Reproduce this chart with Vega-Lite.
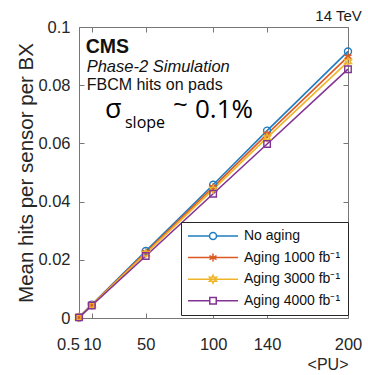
{
  "$schema": "https://vega.github.io/schema/vega-lite/v6.json",
  "width": 269,
  "height": 291,
  "autosize": "none",
  "padding": {"left": 79, "top": 27, "right": 20, "bottom": 57},
  "background": "white",
  "config": {
    "view": {"stroke": "#777777", "strokeWidth": 1},
    "font": "Liberation Sans",
    "legend": {"orient": "none", "legendX": 102, "legendY": 195, "title": null, "padding": 7,
      "strokeColor": "#262626", "fillColor": "white", "labelFont": "Liberation Sans", "labelFontSize": 14, "labelColor": "#111111",
      "symbolSize": 100, "symbolStrokeWidth": 1.5, "symbolOffset": 18, "labelOffset": 24, "rowPadding": 7.6, "symbolOpacity": 1}
  },
  "title": {"text": "14 TeV", "anchor": "end", "fontSize": 15, "fontWeight": "normal", "color": "#1a1a1a", "offset": -5, "font": "Liberation Sans"},
  "datasets": {
    "hits": [
      {"series": "No aging", "pu": 0.5, "hits": 0.0002},
      {"series": "No aging", "pu": 10, "hits": 0.0046},
      {"series": "No aging", "pu": 50, "hits": 0.0230},
      {"series": "No aging", "pu": 100, "hits": 0.0458},
      {"series": "No aging", "pu": 140, "hits": 0.0644},
      {"series": "No aging", "pu": 200, "hits": 0.0916},
      {"series": "Aging 1000 fb⁻¹", "pu": 0.5, "hits": 0.0002},
      {"series": "Aging 1000 fb⁻¹", "pu": 10, "hits": 0.0045},
      {"series": "Aging 1000 fb⁻¹", "pu": 50, "hits": 0.0226},
      {"series": "Aging 1000 fb⁻¹", "pu": 100, "hits": 0.0450},
      {"series": "Aging 1000 fb⁻¹", "pu": 140, "hits": 0.0632},
      {"series": "Aging 1000 fb⁻¹", "pu": 200, "hits": 0.0898},
      {"series": "Aging 3000 fb⁻¹", "pu": 0.5, "hits": 0.0002},
      {"series": "Aging 3000 fb⁻¹", "pu": 10, "hits": 0.0044},
      {"series": "Aging 3000 fb⁻¹", "pu": 50, "hits": 0.0221},
      {"series": "Aging 3000 fb⁻¹", "pu": 100, "hits": 0.0442},
      {"series": "Aging 3000 fb⁻¹", "pu": 140, "hits": 0.0620},
      {"series": "Aging 3000 fb⁻¹", "pu": 200, "hits": 0.0881},
      {"series": "Aging 4000 fb⁻¹", "pu": 0.5, "hits": 0.0002},
      {"series": "Aging 4000 fb⁻¹", "pu": 10, "hits": 0.0043},
      {"series": "Aging 4000 fb⁻¹", "pu": 50, "hits": 0.0213},
      {"series": "Aging 4000 fb⁻¹", "pu": 100, "hits": 0.0427},
      {"series": "Aging 4000 fb⁻¹", "pu": 140, "hits": 0.0598},
      {"series": "Aging 4000 fb⁻¹", "pu": 200, "hits": 0.0855}
    ]
  },
  "resolve": {"axis": {"x": "independent", "y": "independent"}},
  "layer": [
    {
      "data": {"name": "hits"},
      "mark": {"type": "line", "strokeWidth": 1.6},
      "encoding": {
        "x": {"field": "pu", "type": "quantitative",
          "scale": {"domain": [0.5, 200], "nice": false, "zero": false},
          "axis": {"orient": "bottom", "values": [0.5, 10, 50, 100, 140, 200], "labelExpr": "'' + datum.value", "tickSize": -5, "tickColor": "#777777", "domain": false, "grid": false,
            "labelFontSize": 16.5, "labelColor": "#262626", "labelPadding": 23, "labelFlush": false, "labelOverlap": false,
            "labelOffset": {"condition": {"test": "datum.value < 1", "value": -11}, "value": 0},
            "title": "<PU>", "titleAnchor": "end", "titleFontSize": 16, "titleFontWeight": "normal", "titleColor": "#262626", "titlePadding": 4}},
        "y": {"field": "hits", "type": "quantitative",
          "scale": {"domain": [0, 0.1], "nice": false, "zero": true},
          "axis": {"orient": "left", "values": [0, 0.02, 0.04, 0.06, 0.08, 0.1], "labelExpr": "'' + datum.value", "tickSize": -5, "tickColor": "#777777", "domain": false, "grid": false,
            "labelFontSize": 16.5, "labelColor": "#262626", "labelPadding": 14, "labelFlush": false, "labelOverlap": false,
            "title": "Mean hits per sensor per BX", "titleFontSize": 20.5, "titleFontWeight": "normal", "titleColor": "#262626", "titlePadding": 1}},
        "color": {"field": "series", "type": "nominal",
          "scale": {"domain": ["No aging", "Aging 1000 fb⁻¹", "Aging 3000 fb⁻¹", "Aging 4000 fb⁻¹"], "range": ["#1f7cc0", "#dc5a22", "#efb52a", "#833393"]}}
      }
    },
    {
      "data": {"name": "hits"},
      "transform": [{"filter": "datum.series === 'No aging'"}],
      "mark": {"type": "point", "filled": false, "strokeWidth": 1.4, "size": 49, "shape": "circle", "opacity": 1},
      "encoding": {
        "x": {"field": "pu", "type": "quantitative",
          "axis": {"orient": "top", "values": [0.5, 10, 50, 100, 140, 200], "tickSize": -5, "tickColor": "#777777", "domain": false, "grid": false, "labels": false, "title": null}},
        "y": {"field": "hits", "type": "quantitative",
          "axis": {"orient": "right", "values": [0, 0.02, 0.04, 0.06, 0.08, 0.1], "tickSize": -5, "tickColor": "#777777", "domain": false, "grid": false, "labels": false, "title": null}},
        "color": {"field": "series", "type": "nominal"}
      }
    },
    {
      "data": {"name": "hits"},
      "transform": [{"filter": "datum.series === 'Aging 1000 fb⁻¹'"}],
      "mark": {"type": "point", "filled": false, "strokeWidth": 1.6, "size": 49, "shape": "M0,-1.1V1.1M-1,-0.55L1,0.55M-1,0.55L1,-0.55", "opacity": 1},
      "encoding": {
        "x": {"field": "pu", "type": "quantitative", "axis": null},
        "y": {"field": "hits", "type": "quantitative", "axis": null},
        "color": {"field": "series", "type": "nominal"}
      }
    },
    {
      "data": {"name": "hits"},
      "transform": [{"filter": "datum.series === 'Aging 3000 fb⁻¹'"}],
      "mark": {"type": "point", "filled": false, "strokeWidth": 1.4, "size": 49, "shape": "M0,-1.1L0.3,-0.5L1,-0.55L0.55,0L1,0.55L0.3,0.5L0,1.1L-0.3,0.5L-1,0.55L-0.55,0L-1,-0.55L-0.3,-0.5Z", "opacity": 1},
      "encoding": {
        "x": {"field": "pu", "type": "quantitative", "axis": null},
        "y": {"field": "hits", "type": "quantitative", "axis": null},
        "color": {"field": "series", "type": "nominal"}
      }
    },
    {
      "data": {"name": "hits"},
      "transform": [{"filter": "datum.series === 'Aging 4000 fb⁻¹'"}],
      "mark": {"type": "point", "filled": false, "strokeWidth": 1.4, "size": 42, "shape": "square", "opacity": 1},
      "encoding": {
        "x": {"field": "pu", "type": "quantitative", "axis": null},
        "y": {"field": "hits", "type": "quantitative", "axis": null},
        "color": {"field": "series", "type": "nominal"}
      }
    },
    {
      "data": {"name": "hits"},
      "transform": [{"filter": "datum.pu < 0"}],
      "mark": {"type": "point", "filled": false, "strokeWidth": 1.5, "opacity": 1},
      "encoding": {
        "x": {"field": "pu", "type": "quantitative", "axis": null},
        "y": {"field": "hits", "type": "quantitative", "axis": null},
        "color": {"field": "series", "type": "nominal"},
        "shape": {"field": "series", "type": "nominal",
          "scale": {"domain": ["No aging", "Aging 1000 fb⁻¹", "Aging 3000 fb⁻¹", "Aging 4000 fb⁻¹"],
            "range": ["M-5,0H-0.7M0.7,0H5M-0.7,0A0.7,0.7 0 1,0 0.7,0A0.7,0.7 0 1,0 -0.7,0", "M-5,0H5M0,-0.8V0.8M-0.7,-0.4L0.7,0.4M-0.7,0.4L0.7,-0.4", "M-5,0H5M0,-0.8L0.2,-0.35L0.7,-0.4L0.4,0L0.7,0.4L0.2,0.35L0,0.8L-0.2,0.35L-0.7,0.4L-0.4,0L-0.7,-0.4L-0.2,-0.35Z", "M-5,0H-0.65M0.65,0H5M-0.65,-0.65H0.65V0.65H-0.65Z"]}}
      }
    },
    {
      "data": {"values": [{}]},
      "mark": {"type": "text", "text": "CMS", "font": "Liberation Sans", "fontWeight": "bold", "fontSize": 19.5, "align": "left", "baseline": "alphabetic", "color": "#111111"},
      "encoding": {"x": {"datum": 5.5, "type": "quantitative", "axis": null}, "y": {"datum": 0.0911, "type": "quantitative", "axis": null}}
    },
    {
      "data": {"values": [{}]},
      "mark": {"type": "text", "text": "Phase-2 Simulation", "font": "Liberation Sans", "fontStyle": "italic", "fontSize": 16.5, "align": "left", "baseline": "alphabetic", "color": "#111111"},
      "encoding": {"x": {"datum": 6.2, "type": "quantitative", "axis": null}, "y": {"datum": 0.0845, "type": "quantitative", "axis": null}}
    },
    {
      "data": {"values": [{}]},
      "mark": {"type": "text", "text": "FBCM hits on pads", "font": "Liberation Sans", "fontSize": 16, "align": "left", "baseline": "alphabetic", "color": "#111111"},
      "encoding": {"x": {"datum": 6.2, "type": "quantitative", "axis": null}, "y": {"datum": 0.0782, "type": "quantitative", "axis": null}}
    },
    {
      "data": {"values": [{}]},
      "mark": {"type": "text", "text": "σ", "font": "Open Sans", "fontSize": 27, "align": "left", "baseline": "alphabetic", "color": "#000000"},
      "encoding": {"x": {"datum": 19.8, "type": "quantitative", "axis": null}, "y": {"datum": 0.0689, "type": "quantitative", "axis": null}}
    },
    {
      "data": {"values": [{}]},
      "mark": {"type": "text", "text": "slope", "font": "Open Sans", "fontSize": 16, "align": "left", "baseline": "alphabetic", "color": "#000000"},
      "encoding": {"x": {"datum": 34.6, "type": "quantitative", "axis": null}, "y": {"datum": 0.0653, "type": "quantitative", "axis": null}}
    },
    {
      "data": {"values": [{}]},
      "mark": {"type": "text", "text": "~", "font": "Open Sans", "fontSize": 26, "align": "left", "baseline": "alphabetic", "color": "#000000"},
      "encoding": {"x": {"datum": 70.2, "type": "quantitative", "axis": null}, "y": {"datum": 0.0706, "type": "quantitative", "axis": null}}
    },
    {
      "data": {"values": [{}]},
      "mark": {"type": "text", "text": "0.1%", "font": "Open Sans", "fontSize": 26, "align": "left", "baseline": "alphabetic", "color": "#000000"},
      "encoding": {"x": {"datum": 86.5, "type": "quantitative", "axis": null}, "y": {"datum": 0.0689, "type": "quantitative", "axis": null}}
    }
  ]
}
